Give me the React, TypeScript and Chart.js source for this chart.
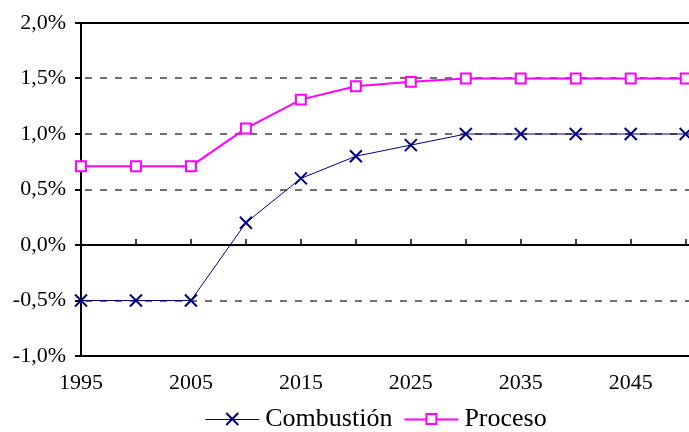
import { useEffect, useRef } from 'react';
import { Chart, registerables } from 'chart.js';

Chart.register(...registerables);

// Annual growth rates (%) by emission source
const years = [1995, 2000, 2005, 2010, 2015, 2020, 2025, 2030, 2035, 2040, 2045, 2050];
const combustion = [-0.5, -0.5, -0.5, 0.2, 0.6, 0.8, 0.9, 1.0, 1.0, 1.0, 1.0, 1.0];
const proceso = [0.71, 0.71, 0.71, 1.05, 1.31, 1.43, 1.47, 1.5, 1.5, 1.5, 1.5, 1.5];
const seriesNames = ['Combustión', 'Proceso'];
const xTickYears = [1995, 2005, 2015, 2025, 2035, 2045];
const yTickValues = [-1, -0.5, 0, 0.5, 1, 1.5, 2];

const NAVY = '#000080';
const MAGENTA = '#FF00FF';
const FONT = '"Liberation Serif", "Times New Roman", serif';

const fmtPct = (v: number) => v.toFixed(1).replace('.', ',') + '%';

// Axis frame, dashed gridlines and the tick marks along the zero line
const framePlugin = {
  id: 'frame',
  beforeDatasetsDraw(chart: any) {
    const { ctx, chartArea, scales, width } = chart;
    const { left, top, bottom } = chartArea;
    const ys = scales.y;
    const xs = scales.x;
    ctx.save();
    for (const v of yTickValues) {
      const py = Math.round(ys.getPixelForValue(v));
      ctx.beginPath();
      if (v === -1 || v === 0 || v === 2) {
        ctx.setLineDash([]);
        ctx.strokeStyle = '#000';
        ctx.lineWidth = 2;
      } else {
        ctx.setLineDash([7, 8]);
        ctx.lineDashOffset = -4;
        ctx.strokeStyle = '#707070';
        ctx.lineWidth = 2;
      }
      ctx.moveTo(left, py);
      ctx.lineTo(width, py);
      ctx.stroke();
    }
    ctx.setLineDash([]);
    ctx.strokeStyle = '#000';
    ctx.lineWidth = 2;
    // left axis
    ctx.beginPath();
    ctx.moveTo(left, top - 1);
    ctx.lineTo(left, bottom + 1);
    ctx.stroke();
    // y tick marks
    for (const v of yTickValues) {
      const py = Math.round(ys.getPixelForValue(v));
      ctx.beginPath();
      ctx.moveTo(left - 6, py);
      ctx.lineTo(left, py);
      ctx.stroke();
    }
    // x tick marks on the zero line
    const y0 = Math.round(ys.getPixelForValue(0));
    ctx.lineWidth = 1.5;
    for (const yr of years) {
      if (yr === years[0]) continue;
      const px = Math.round(xs.getPixelForValue(yr));
      ctx.beginPath();
      ctx.moveTo(px, y0);
      ctx.lineTo(px, y0 - 6);
      ctx.stroke();
    }
    ctx.restore();
  },
};

// Legend: line sample with marker, then series name
const legendPlugin = {
  id: 'lineLegend',
  afterDraw(chart: any) {
    const { ctx } = chart;
    ctx.save();
    ctx.font = `26px ${FONT}`;
    const lineW = 54;
    const gapText = 6;
    const gapItem = 12;
    const widths = seriesNames.map((n) => ctx.measureText(n).width);
    const total = widths.reduce((a, w) => a + lineW + gapText + w, 0) + gapItem;
    const cx = 376;
    const cy = 419;
    let x = cx - total / 2;
    seriesNames.forEach((name, i) => {
      const color = i === 0 ? NAVY : MAGENTA;
      ctx.strokeStyle = color;
      ctx.lineWidth = i === 0 ? 1 : 2;
      ctx.beginPath();
      ctx.moveTo(x, cy + 0.5);
      ctx.lineTo(x + lineW, cy + 0.5);
      ctx.stroke();
      const mx = x + lineW / 2;
      ctx.lineWidth = 2;
      if (i === 0) {
        const r = 6;
        ctx.beginPath();
        ctx.moveTo(mx - r, cy - r);
        ctx.lineTo(mx + r, cy + r);
        ctx.moveTo(mx + r, cy - r);
        ctx.lineTo(mx - r, cy + r);
        ctx.stroke();
      } else {
        const s = 5;
        ctx.fillStyle = '#fff';
        ctx.fillRect(mx - s, cy - s, 2 * s, 2 * s);
        ctx.strokeRect(mx - s, cy - s, 2 * s, 2 * s);
      }
      ctx.fillStyle = '#000';
      ctx.textBaseline = 'middle';
      ctx.textAlign = 'left';
      ctx.fillText(name, x + lineW + gapText, cy);
      x += lineW + gapText + widths[i] + gapItem;
    });
    ctx.restore();
  },
};

export default function App() {
  const canvasRef = useRef<HTMLCanvasElement | null>(null);

  useEffect(() => {
    document.body.style.margin = '0';
    const canvas = canvasRef.current;
    if (!canvas) return;
    const chart = new Chart(canvas, {
      type: 'line',
      data: {
        datasets: [
          {
            label: seriesNames[0],
            data: years.map((yr, i) => ({ x: yr, y: combustion[i] })),
            borderColor: NAVY,
            backgroundColor: NAVY,
            borderWidth: 1,
            pointStyle: 'crossRot',
            pointRadius: 8.5,
            pointBorderWidth: 2,
            pointBorderColor: NAVY,
            pointHoverRadius: 8.5,
            clip: false,
            order: 2,
          },
          {
            label: seriesNames[1],
            data: years.map((yr, i) => ({ x: yr, y: proceso[i] })),
            borderColor: MAGENTA,
            backgroundColor: '#fff',
            borderWidth: 2,
            pointStyle: 'rect',
            pointRadius: 7,
            pointBorderWidth: 2,
            pointBorderColor: MAGENTA,
            pointBackgroundColor: '#fff',
            pointHoverRadius: 7,
            clip: false,
            order: 1,
          },
        ],
      },
      options: {
        animation: false,
        responsive: true,
        maintainAspectRatio: false,
        layout: { autoPadding: false, padding: { top: 23, right: 0, left: 0, bottom: 0 } },
        plugins: {
          legend: { display: false },
          tooltip: { enabled: false },
        },
        scales: {
          x: {
            type: 'linear',
            min: years[0],
            max: 2050.3,
            grid: { display: false },
            border: { display: false },
            afterBuildTicks: (scale: any) => {
              scale.ticks = xTickYears.map((v) => ({ value: v }));
            },
            afterFit: (scale: any) => {
              scale.height = 76;
            },
            ticks: {
              autoSkip: false,
              maxRotation: 0,
              padding: 6,
              color: '#000',
              font: { family: FONT, size: 22 },
              callback: (v: any) => String(v),
            },
          },
          y: {
            min: -1,
            max: 2,
            grid: { display: true, color: 'rgba(0,0,0,0)', drawTicks: true, tickLength: 6 },
            border: { display: false },
            afterFit: (scale: any) => {
              scale.width = 81;
            },
            ticks: {
              stepSize: 0.5,
              padding: 9,
              color: '#000',
              font: { family: FONT, size: 22 },
              callback: (v: any) => fmtPct(Number(v)),
            },
          },
        },
      },
      plugins: [framePlugin, legendPlugin],
    });
    return () => chart.destroy();
  }, []);

  return (
    <div style={{ position: 'relative', width: 689, height: 432, background: '#fff' }}>
      <canvas ref={canvasRef} />
    </div>
  );
}
